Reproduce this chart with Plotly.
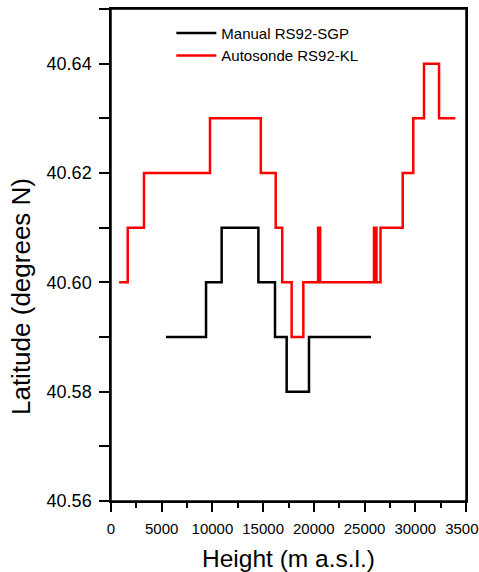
import plotly.graph_objects as go

# Balloon drift: latitude against height, step profiles for two sonde systems
manual_height = [5420, 9370, 10910, 14530, 16170, 17320, 19520, 25630]
manual_lat = [40.59, 40.60, 40.61, 40.60, 40.59, 40.58, 40.59, 40.59]

auto_height = [800, 1650, 3250, 9760, 14770, 16240, 16880, 17810, 18960,
               20420, 20620, 25930, 26175, 26570, 28760, 29800, 30860,
               32340, 33950]
auto_lat = [40.60, 40.61, 40.62, 40.63, 40.62, 40.61, 40.60, 40.59, 40.60,
            40.61, 40.60, 40.61, 40.60, 40.61, 40.62, 40.63, 40.64,
            40.63, 40.63]

series_names = ["Manual RS92-SGP", "Autosonde RS92-KL"]
x_title = "Height (m a.s.l.)"
y_title = "Latitude (degrees N)"

FONT = "Liberation Sans, Arial, sans-serif"

fig = go.Figure()
fig.add_trace(go.Scatter(
    x=manual_height, y=manual_lat, name=series_names[0], mode="lines",
    line=dict(color="#000000", width=2.5, shape="hv"),
))
fig.add_trace(go.Scatter(
    x=auto_height, y=auto_lat, name=series_names[1], mode="lines",
    line=dict(color="#ff0000", width=2.5, shape="hv"),
))

axis_common = dict(
    showgrid=False, zeroline=False, showline=True, linecolor="#000000",
    linewidth=1.5, mirror=True, ticks="outside", tickcolor="#000000",
    tickwidth=1.5, automargin=False,
)

fig.update_xaxes(
    range=[0, 35000], tickmode="linear", tick0=0, dtick=5000,
    tickformat="d", ticklen=9, ticklabelstandoff=4,
    ticklabeloverflow="allow",
    tickfont=dict(family=FONT, size=15, color="#000000"),
    minor=dict(dtick=2500, ticks="outside", ticklen=5, tickwidth=1.5,
               tickcolor="#000000"),
    **axis_common,
)
fig.update_yaxes(
    range=[40.56, 40.65], tickmode="linear", tick0=40.56, dtick=0.02,
    tickformat=".2f", ticklen=10, ticklabelstandoff=4,
    tickfont=dict(family=FONT, size=18, color="#000000"),
    minor=dict(dtick=0.01, ticks="outside", ticklen=10, tickwidth=1.5,
               tickcolor="#000000"),
    **axis_common,
)

fig.update_layout(
    width=479, height=572,
    margin=dict(l=111, r=13, t=9, b=71, pad=0, autoexpand=False),
    paper_bgcolor="#ffffff", plot_bgcolor="#ffffff",
    showlegend=True,
    legend=dict(
        x=0.17, y=0.984, xanchor="left", yanchor="top",
        bgcolor="rgba(0,0,0,0)", borderwidth=0,
        font=dict(family=FONT, size=15, color="#000000"),
        itemwidth=40,
    ),
    shapes=[
        # plot frame
        dict(type="rect", xref="paper", yref="paper", x0=0, y0=0, x1=1, y1=1,
             line=dict(color="#000000", width=1.5), fillcolor="rgba(0,0,0,0)",
             layer="above"),
    ],
    annotations=[
        dict(text=x_title, xref="paper", yref="paper", x=0.5, y=-0.1159,
             xanchor="center", yanchor="middle", showarrow=False,
             font=dict(family=FONT, size=24.5, color="#000000")),
        dict(text=y_title, xref="paper", yref="paper", x=-0.2535, y=0.4146,
             xanchor="center", yanchor="middle", textangle=-90,
             showarrow=False,
             font=dict(family=FONT, size=26, color="#000000")),
    ],
)

fig.write_html("out.html")
